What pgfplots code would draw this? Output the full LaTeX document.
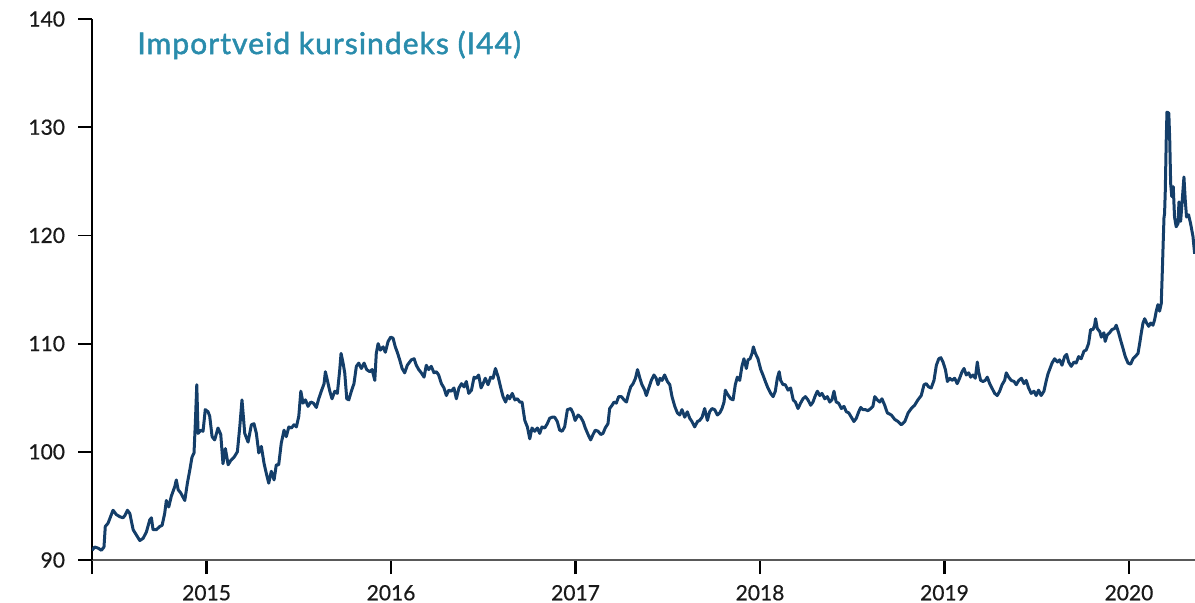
\documentclass[border=0pt]{standalone}
\usepackage{fontspec}
\setmainfont{Lato}
\newfontfamily\labfont{Lato}[FakeBold=0.6]
\newfontfamily\titfont{Lato}[FakeBold=1.6,LetterSpace=3.5]
\usepackage{pgfplots}
\pgfplotsset{compat=1.18}
\usepackage{pgfplotstable}
\definecolor{linecol}{RGB}{20,62,105}
\definecolor{titlecol}{RGB}{42,140,172}
\definecolor{labcol}{RGB}{25,25,25}

\pgfplotstableread{
x y
2014.379 90.9
2014.394 91.2
2014.412 91.1
2014.430 90.9
2014.444 91.2
2014.451 93.1
2014.466 93.4
2014.484 94.2
2014.493 94.6
2014.511 94.2
2014.530 94.0
2014.547 93.9
2014.557 94.1
2014.571 94.6
2014.584 94.3
2014.602 92.8
2014.620 92.3
2014.638 91.8
2014.656 92.0
2014.674 92.6
2014.692 93.7
2014.701 93.9
2014.710 92.8
2014.728 92.8
2014.746 93.1
2014.759 93.2
2014.773 94.3
2014.782 95.5
2014.795 94.9
2014.809 95.9
2014.828 96.8
2014.836 97.4
2014.846 96.5
2014.860 96.2
2014.882 95.5
2014.896 97.1
2014.909 98.3
2014.921 99.5
2014.932 99.9
2014.939 102.6
2014.947 106.2
2014.954 101.7
2014.969 102.0
2014.981 101.9
2014.993 103.9
2015.008 103.7
2015.017 103.3
2015.030 101.4
2015.044 101.1
2015.062 102.2
2015.077 101.6
2015.089 98.9
2015.102 100.3
2015.117 98.8
2015.131 99.2
2015.149 99.5
2015.167 100.0
2015.180 102.3
2015.192 104.8
2015.207 101.7
2015.225 100.9
2015.243 102.5
2015.257 102.6
2015.270 101.7
2015.283 99.9
2015.297 100.5
2015.312 98.9
2015.324 98.0
2015.337 97.1
2015.351 98.2
2015.366 97.4
2015.378 98.8
2015.391 98.8
2015.405 100.8
2015.420 102.0
2015.432 101.4
2015.446 102.3
2015.460 102.2
2015.474 102.5
2015.487 102.3
2015.500 103.3
2015.511 105.6
2015.523 104.5
2015.536 104.8
2015.550 104.2
2015.565 104.6
2015.579 104.5
2015.595 104.1
2015.608 104.9
2015.622 105.6
2015.637 106.3
2015.644 107.4
2015.655 106.6
2015.668 105.6
2015.680 104.9
2015.695 105.6
2015.709 105.4
2015.722 107.6
2015.729 109.1
2015.740 108.2
2015.749 107.3
2015.760 104.9
2015.771 104.8
2015.785 105.6
2015.799 106.3
2015.812 107.9
2015.825 108.2
2015.839 107.7
2015.854 108.2
2015.868 107.6
2015.885 107.4
2015.897 107.6
2015.912 106.6
2015.920 109.1
2015.930 110.0
2015.942 109.4
2015.957 109.7
2015.969 109.2
2015.984 110.2
2015.998 110.6
2016.011 110.5
2016.023 109.7
2016.034 109.2
2016.047 108.5
2016.060 107.7
2016.074 107.3
2016.088 108.0
2016.110 108.5
2016.125 108.6
2016.137 108.0
2016.150 107.6
2016.164 107.3
2016.179 106.9
2016.191 108.0
2016.204 107.6
2016.218 107.9
2016.233 107.3
2016.246 107.4
2016.258 107.1
2016.273 106.3
2016.287 105.9
2016.300 105.2
2016.313 105.7
2016.327 105.6
2016.341 105.9
2016.354 104.9
2016.368 105.9
2016.382 106.3
2016.396 106.0
2016.408 106.5
2016.421 105.4
2016.436 105.7
2016.450 106.9
2016.462 106.8
2016.475 107.1
2016.488 105.9
2016.499 106.3
2016.511 106.8
2016.526 106.2
2016.540 106.9
2016.553 106.8
2016.566 107.7
2016.581 106.9
2016.595 105.9
2016.607 105.1
2016.621 104.6
2016.632 105.2
2016.643 104.9
2016.657 105.4
2016.671 104.8
2016.685 104.9
2016.698 104.6
2016.710 104.6
2016.725 102.9
2016.739 102.3
2016.752 101.2
2016.764 102.2
2016.779 101.9
2016.793 102.2
2016.806 101.7
2016.818 102.3
2016.833 102.2
2016.847 102.6
2016.860 103.1
2016.873 103.2
2016.887 103.2
2016.901 102.8
2016.914 102.0
2016.927 101.9
2016.941 102.3
2016.956 103.9
2016.974 104.0
2016.986 103.6
2016.998 102.9
2017.014 103.4
2017.028 103.2
2017.041 102.8
2017.053 102.2
2017.068 101.6
2017.082 101.1
2017.095 101.6
2017.107 102.0
2017.122 101.9
2017.137 101.6
2017.149 101.7
2017.161 102.2
2017.176 102.6
2017.185 104.0
2017.198 104.3
2017.209 104.6
2017.221 104.5
2017.234 105.1
2017.249 105.1
2017.263 104.8
2017.276 104.6
2017.288 105.4
2017.299 106.0
2017.312 106.3
2017.325 106.8
2017.336 107.6
2017.349 106.8
2017.360 106.2
2017.375 105.7
2017.384 105.2
2017.397 105.9
2017.411 106.6
2017.425 107.1
2017.437 106.8
2017.447 106.2
2017.458 106.8
2017.469 106.6
2017.483 107.1
2017.498 106.5
2017.511 106.2
2017.523 105.1
2017.538 104.2
2017.552 103.6
2017.565 103.4
2017.577 103.9
2017.592 103.2
2017.606 103.7
2017.619 103.1
2017.631 102.8
2017.646 102.3
2017.661 102.8
2017.673 102.9
2017.686 103.2
2017.700 104.0
2017.715 102.9
2017.727 103.7
2017.740 104.0
2017.754 103.9
2017.769 103.4
2017.782 103.6
2017.794 104.0
2017.805 104.6
2017.812 105.7
2017.821 105.4
2017.841 104.9
2017.854 104.8
2017.866 106.2
2017.877 106.9
2017.890 106.6
2017.902 107.9
2017.913 108.6
2017.926 107.7
2017.935 108.5
2017.946 108.6
2017.957 109.1
2017.964 109.7
2017.975 109.1
2017.989 108.6
2018.004 107.6
2018.016 107.1
2018.029 106.5
2018.043 105.9
2018.058 105.4
2018.071 105.1
2018.083 105.6
2018.094 106.8
2018.104 107.4
2018.112 106.6
2018.125 106.2
2018.137 106.2
2018.152 105.7
2018.166 105.9
2018.180 104.8
2018.192 104.6
2018.206 104.0
2018.220 104.5
2018.233 104.9
2018.246 105.1
2018.260 104.8
2018.275 104.3
2018.287 104.6
2018.300 105.2
2018.311 105.6
2018.324 105.2
2018.336 105.4
2018.351 104.9
2018.365 105.1
2018.378 104.6
2018.390 104.8
2018.401 105.6
2018.413 104.6
2018.426 104.5
2018.441 104.0
2018.455 104.2
2018.468 103.7
2018.481 103.6
2018.495 103.2
2018.509 102.8
2018.522 103.1
2018.535 103.7
2018.546 104.1
2018.558 103.9
2018.571 103.9
2018.585 103.8
2018.600 104.0
2018.612 104.2
2018.622 105.1
2018.636 104.8
2018.649 104.6
2018.661 104.9
2018.676 104.3
2018.690 103.6
2018.712 103.4
2018.730 103.0
2018.748 102.8
2018.766 102.5
2018.785 102.8
2018.803 103.6
2018.820 104.0
2018.838 104.3
2018.856 104.8
2018.874 105.2
2018.889 106.2
2018.901 106.3
2018.914 106.0
2018.928 105.9
2018.943 106.6
2018.956 108.0
2018.969 108.6
2018.980 108.7
2018.992 108.3
2019.005 107.6
2019.016 106.5
2019.029 106.8
2019.041 106.6
2019.055 106.8
2019.069 106.3
2019.082 106.8
2019.095 107.4
2019.106 107.7
2019.118 107.1
2019.131 107.3
2019.142 106.9
2019.154 107.1
2019.167 106.8
2019.178 108.3
2019.185 107.4
2019.196 106.6
2019.209 106.5
2019.221 106.6
2019.232 106.9
2019.245 106.3
2019.257 105.9
2019.272 105.4
2019.286 105.2
2019.299 105.6
2019.312 106.2
2019.326 106.6
2019.335 107.3
2019.348 106.9
2019.362 106.6
2019.377 106.5
2019.389 106.2
2019.403 106.6
2019.417 106.8
2019.431 106.3
2019.443 106.6
2019.456 105.9
2019.470 105.4
2019.485 105.6
2019.497 105.2
2019.510 105.7
2019.524 105.2
2019.539 105.6
2019.552 106.6
2019.561 107.2
2019.583 108.2
2019.597 108.6
2019.612 108.3
2019.624 108.5
2019.637 108.0
2019.651 108.8
2019.662 109.0
2019.673 108.3
2019.687 107.9
2019.702 108.3
2019.714 108.2
2019.727 108.8
2019.741 108.6
2019.756 109.3
2019.768 109.4
2019.781 110.0
2019.792 111.3
2019.805 111.3
2019.814 111.7
2019.819 112.3
2019.828 111.4
2019.842 111.1
2019.850 110.6
2019.864 111.0
2019.871 110.2
2019.882 110.8
2019.895 111.0
2019.908 111.3
2019.922 111.4
2019.931 111.7
2019.944 111.0
2019.955 110.3
2019.967 109.6
2019.980 108.8
2019.995 108.2
2020.009 108.1
2020.022 108.6
2020.034 108.8
2020.049 109.1
2020.058 110.0
2020.067 111.0
2020.076 111.9
2020.085 112.3
2020.096 111.9
2020.107 111.6
2020.118 111.9
2020.130 111.7
2020.139 112.2
2020.148 113.0
2020.157 113.6
2020.166 113.0
2020.175 113.7
2020.181 116.8
2020.186 119.6
2020.190 121.7
2020.193 122.0
2020.197 124.2
2020.202 128.8
2020.206 131.4
2020.216 131.3
2020.221 128.8
2020.226 124.8
2020.232 123.6
2020.240 124.5
2020.247 121.7
2020.256 120.8
2020.266 121.1
2020.271 123.1
2020.280 121.3
2020.289 123.3
2020.298 125.4
2020.305 123.3
2020.312 121.7
2020.323 121.9
2020.334 121.1
2020.347 119.9
2020.356 118.3
}\datatable

\begin{document}
\begin{tikzpicture}
\begin{axis}[
  scale only axis,
  width=551.5pt, height=270.5pt,
  xmin=2014.379, xmax=2020.358,
  ymin=90, ymax=140,
  axis x line*=bottom, axis y line*=left,
  x axis line style={draw=black!65, line width=0.9pt},
  y axis line style={draw=black, line width=1.3pt},
  xtick={2014.379,2015,2016,2017,2018,2019,2020},
  xticklabels={,2015,2016,2017,2018,2019,2020},
  ytick={90,100,110,120,130,140},
  tick align=outside,
  major tick length=7pt,
  xtick style={draw=black, line width=1.3pt},
  ytick style={draw=black, line width=0.9pt},
  /pgf/number format/assume math mode=true,
  tick label style={font=\labfont\fontsize{10.5}{12}\selectfont, text=labcol},
  xticklabel style={yshift=-2pt},
  yticklabel style={xshift=-3pt},
  clip=true,
]
\addplot[linecol, line width=1.5pt, line join=round] table[x=x,y=y]{\datatable};
\end{axis}
\node[anchor=west, text=titlecol, font=\titfont\fontsize{15}{18}\selectfont, inner sep=0pt] at (22.5pt,257.5pt) {Importveid kursindeks (I44)};
\pgfresetboundingbox
\path[use as bounding box] (-46pt,-21pt) rectangle (551.5pt,280pt);
\end{tikzpicture}
\end{document}
